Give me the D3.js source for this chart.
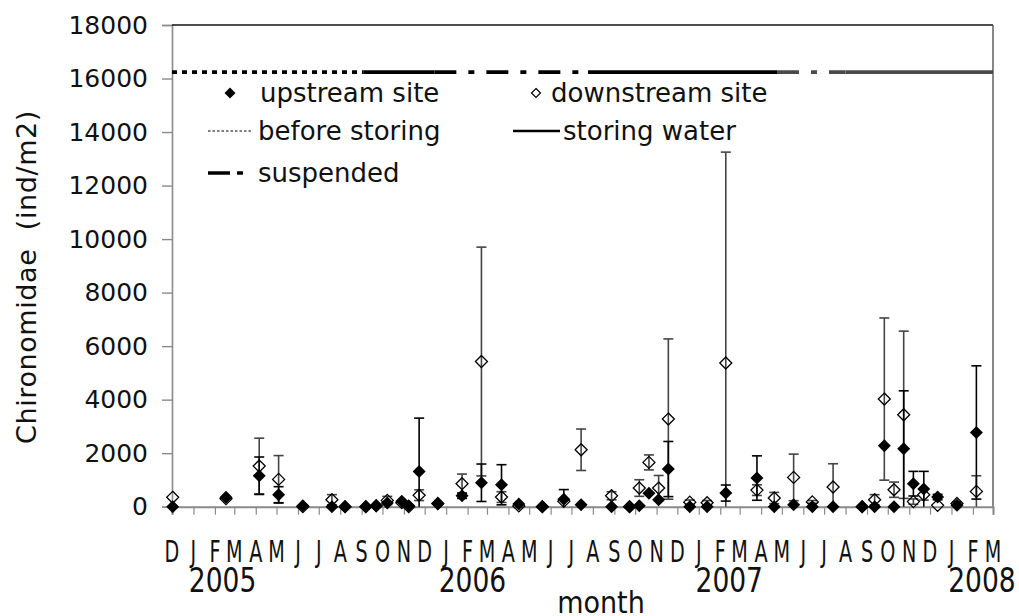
<!DOCTYPE html>
<html><head><meta charset="utf-8">
<script src="https://cdn.jsdelivr.net/npm/d3@7"></script>
<style>body{margin:0;background:#fff} text{font-family:"DejaVu Sans",sans-serif;fill:#111}</style>
</head><body><svg id="c" width="1019" height="616"></svg>
<script>
// ---------------- data ----------------
const sampleDates = ["2004-12-02","2005-02-17","2005-04-06","2005-05-04","2005-06-08","2005-07-20","2005-08-08","2005-09-07","2005-09-22","2005-10-08","2005-10-29","2005-11-08","2005-11-23","2005-12-20","2006-01-24","2006-02-21","2006-03-22","2006-04-16","2006-05-20","2006-06-20","2006-07-15","2006-08-28","2006-09-23","2006-10-07","2006-10-21","2006-11-04","2006-11-18","2006-12-19","2007-01-13","2007-02-09","2007-03-26","2007-04-20","2007-05-18","2007-06-14","2007-07-14","2007-08-25","2007-09-12","2007-09-26","2007-10-10","2007-10-24","2007-11-07","2007-11-22","2007-12-12","2008-01-09","2008-02-06"];
const upstreamMean = [0,350,1157,448,40,0,0,0,30,140,200,40,1320,110,410,895,820,100,0,280,75,0,0,40,500,260,1407,0,0,510,1070,0,75,0,0,0,0,2278,0,2165,860,660,360,50,2775];
const upstreamSD   = [0,0,700,300,0,0,0,0,0,0,0,0,1990,0,100,700,750,0,0,360,0,0,0,0,0,0,1030,0,0,300,830,0,0,0,0,0,0,0,0,2165,460,660,100,0,2490];
const downstreamMean = [350,300,1520,1020,0,260,0,0,40,235,150,0,430,120,860,5425,360,30,0,200,2128,410,0,697,1655,697,3275,170,150,5370,620,325,1095,180,735,0,260,4022,635,3435,190,448,50,120,572];
const downstreamSD   = [0,0,1040,890,0,190,0,0,0,150,0,0,200,0,360,4275,200,0,0,0,775,150,0,310,280,470,2995,80,80,7880,200,210,870,50,870,0,190,3030,285,3125,100,200,0,60,585];
const monthLabels = ["D","J","F","M","A","M","J","J","A","S","O","N","D","J","F","M","A","M","J","J","A","S","O","N","D","J","F","M","A","M","J","J","A","S","O","N","D","J","F","M"];
const yearLabels = ["2005","2006","2007","2008"];
const yearLabelDates = ["2005-02-12","2006-02-08","2007-02-14","2008-02-14"];
const yTicks = [0,2000,4000,6000,8000,10000,12000,14000,16000,18000];
const phaseNames = ["before storing","storing water","suspended","storing water","suspended","storing water"];
const phaseStart = ["2004-12-01","2005-09-04","2005-12-15","2006-07-25","2007-04-24","2007-08-01"];
const phaseEnd   = ["2005-09-04","2005-12-15","2006-07-25","2007-04-24","2007-08-01","2008-03-01"];
const phaseLevel = 16240;
const axisStart = "2004-12-01", axisEnd = "2008-03-01";

// ---------------- chart ----------------
const parse = d3.timeParse("%Y-%m-%d");
const svg = d3.select("#c");
const L = 172, R = 993, T = 25, B = 506.7;
const x = d3.scaleTime().domain([parse(axisStart), parse(axisEnd)]).range([L, R]);
const y = d3.scaleLinear().domain([0, 18000]).range([B, T]);

// y axis
const yAxis = svg.append("g").attr("transform", `translate(${L},0)`)
  .call(d3.axisLeft(y).tickValues(yTicks).tickSize(10).tickPadding(14).tickFormat(d3.format("d")));
yAxis.select(".domain").attr("stroke", "#8a8a8a").attr("stroke-width", 1.6);
yAxis.selectAll(".tick line").attr("stroke", "#8a8a8a").attr("stroke-width", 1.4);
yAxis.selectAll(".tick text").attr("font-size", 25).attr("fill", "#111").attr("font-family", "DejaVu Sans");

// frame top/right
svg.append("line").attr("x1", L).attr("x2", R).attr("y1", T).attr("y2", T).attr("stroke", "#111").attr("stroke-width", 1.4);
svg.append("line").attr("x1", R).attr("x2", R).attr("y1", T).attr("y2", B).attr("stroke", "#555").attr("stroke-width", 1.4);

// x axis
const months = d3.timeMonth.range(parse(axisStart), d3.timeDay.offset(parse(axisEnd), 1));
const xAxis = svg.append("g").attr("transform", `translate(0,${B})`)
  .call(d3.axisBottom(x).tickValues(months).tickSize(8).tickFormat(""));
xAxis.select(".domain").attr("stroke", "#8a8a8a").attr("stroke-width", 2);
xAxis.selectAll(".tick line").attr("stroke", "#8a8a8a").attr("stroke-width", 1.2);
svg.append("g").selectAll("text").data(months).join("text")
  .attr("transform", (d) => `translate(${x(d)},562) scale(0.64,1)`)
  .attr("text-anchor", "middle").attr("font-size", 30)
  .text((d, i) => monthLabels[i]);
svg.append("g").selectAll("text").data(yearLabels).join("text")
  .attr("transform", (d, i) => `translate(${x(parse(yearLabelDates[i]))},592) scale(0.78,1)`)
  .attr("text-anchor", "middle").attr("font-size", 34)
  .text(d => d);
svg.append("text").attr("transform", "translate(601,613) scale(0.9,1)")
  .attr("text-anchor", "middle").attr("font-size", 30).text("month");

// y title
svg.append("text").attr("transform", "translate(36,277) rotate(-90)")
  .attr("text-anchor", "middle").attr("font-size", 27).attr("letter-spacing", 0.6)
  .style("white-space", "pre").text("Chironomidae  (ind/m2)");

// phase line
const dashFor = n => n === "before storing" ? "5,5" : n === "suspended" ? "22,12,6,12" : null;
svg.append("g").selectAll("line").data(phaseNames).join("line")
  .attr("x1", (d, i) => x(parse(phaseStart[i]))).attr("x2", (d, i) => x(parse(phaseEnd[i])))
  .attr("y1", y(phaseLevel)).attr("y2", y(phaseLevel))
  .attr("stroke", (d, i) => i >= 4 ? "#4a4a4a" : "#000")
  .attr("stroke-width", 3.6)
  .attr("stroke-dasharray", d => dashFor(d));

// error bars
const pts = sampleDates.map((d, i) => ({ date: parse(d), um: upstreamMean[i], us: upstreamSD[i], dm: downstreamMean[i], ds: downstreamSD[i] }));
function errBars(g, mKey, sKey, color) {
  const data = pts.filter(p => p[sKey] > 0);
  g.selectAll("line.v").data(data).join("line").attr("class", "v")
    .attr("x1", p => x(p.date)).attr("x2", p => x(p.date))
    .attr("y1", p => y(Math.max(0, p[mKey] - p[sKey]))).attr("y2", p => y(Math.min(18000, p[mKey] + p[sKey])))
    .attr("stroke", color).attr("stroke-width", 1.6);
  g.selectAll("line.t").data(data.filter(p => p[mKey] + p[sKey] < 18000)).join("line").attr("class", "t")
    .attr("x1", p => x(p.date) - 5).attr("x2", p => x(p.date) + 5)
    .attr("y1", p => y(p[mKey] + p[sKey])).attr("y2", p => y(p[mKey] + p[sKey]))
    .attr("stroke", color).attr("stroke-width", 1.6);
  g.selectAll("line.b").data(data.filter(p => p[mKey] - p[sKey] > 0)).join("line").attr("class", "b")
    .attr("x1", p => x(p.date) - 5).attr("x2", p => x(p.date) + 5)
    .attr("y1", p => y(p[mKey] - p[sKey])).attr("y2", p => y(p[mKey] - p[sKey]))
    .attr("stroke", color).attr("stroke-width", 1.6);
}
errBars(svg.append("g"), "dm", "ds", "#444");
errBars(svg.append("g"), "um", "us", "#000");

const dia = (cx, cy, r) => `M${cx},${cy - r}L${cx + r},${cy}L${cx},${cy + r}L${cx - r},${cy}Z`;
svg.append("g").selectAll("path").data(pts).join("path")
  .attr("d", p => dia(x(p.date), y(p.um), 6.5)).attr("fill", "#000");
svg.append("g").selectAll("path").data(pts).join("path")
  .attr("d", p => dia(x(p.date), y(p.dm), 6)).attr("fill", "none").attr("stroke", "#000").attr("stroke-width", 1.3);

// legend
const lg = svg.append("g");
lg.append("path").attr("d", dia(230, 93, 5.5)).attr("fill", "#000");
lg.append("text").attr("x", 260).attr("y", 101.7).attr("font-size", 26).text("upstream site");
lg.append("path").attr("d", dia(536, 93, 4.5)).attr("fill", "none").attr("stroke", "#000").attr("stroke-width", 1.2);
lg.append("text").attr("x", 551).attr("y", 101.7).attr("font-size", 26).text("downstream site");
lg.append("line").attr("x1", 208).attr("x2", 251).attr("y1", 131).attr("y2", 131).attr("stroke", "#000").attr("stroke-width", 1).attr("stroke-dasharray", "2.5,2");
lg.append("text").attr("x", 258).attr("y", 140).attr("font-size", 26).text("before storing");
lg.append("line").attr("x1", 513).attr("x2", 560).attr("y1", 131).attr("y2", 131).attr("stroke", "#000").attr("stroke-width", 2.6);
lg.append("text").attr("x", 563).attr("y", 140).attr("font-size", 26).text("storing water");
lg.append("line").attr("x1", 208).attr("x2", 244).attr("y1", 173).attr("y2", 173).attr("stroke", "#000").attr("stroke-width", 3.6).attr("stroke-dasharray", "22,7,6,20");
lg.append("text").attr("x", 258).attr("y", 181.7).attr("font-size", 26).text("suspended");
</script></body></html>
